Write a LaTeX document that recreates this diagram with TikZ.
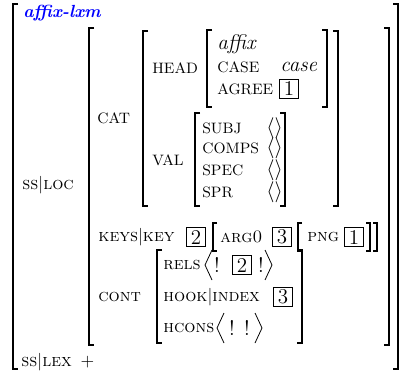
\RequirePackage{fix-cm}
\documentclass[tikz,border=0pt]{standalone}
\begin{document}
\begin{tikzpicture}[x=0.57pt,y=0.57pt,yscale=-1,xscale=1,
	attr/.style={anchor=west,inner sep=0pt,font=\scshape},
	feat/.style={anchor=west,inner sep=0pt,font=\fontsize{8.6}{10}\selectfont},
	typ/.style={anchor=west,inner sep=0pt,font=\fontsize{12}{14}\selectfont\itshape},
	sym/.style={inner sep=0pt,font=\fontsize{12}{14}\selectfont},
	tagbox/.style={draw,line width=1pt,inner sep=0pt,minimum width=10.8pt,minimum height=10.8pt,font=\fontsize{12}{14}\selectfont},
	brk/.style={line width=0.9pt},
	ang/.style={line width=0.45pt}]
	\useasboundingbox (0,0) rectangle (399,371);

	%Outer matrix
	\draw [brk] (18,4) -- (13,4) -- (13,369) -- (18,369) ;
	\draw [brk] (393,4) -- (398,4) -- (398,369) -- (393,369) ;
	\node [anchor=west,inner sep=0pt,text=blue,font=\bfseries\itshape] (type) at (23,13) {affix-lxm};
	\node [attr] (ssloc) at (22,185) {ss$|$loc};
	\node [attr] (sslex) at (21,362) {ss$|$lex\enspace$+$};

	%LOC value
	\draw [brk] (94,28) -- (89,28) -- (89,345) -- (94,345) ;
	\draw [brk] (384,28) -- (389,28) -- (389,345) -- (384,345) ;
	\node [feat] (cat) at (97,118) {CAT};
	\node [attr] (keys) at (98,237) {keys$|$key};
	\node [attr] (cont) at (98,297) {cont};

	%CAT value
	\draw [brk] (148,31) -- (143,31) -- (143,206) -- (148,206) ;
	\draw [brk] (333,31) -- (338,31) -- (338,206) -- (333,206) ;
	\node [feat] (head) at (152,68) {HEAD};
	\node [feat] (val) at (152,160) {VAL};

	%HEAD value
	\draw [brk] (212,30) -- (207,30) -- (207,107) -- (212,107) ;
	\draw [brk] (322,30) -- (327,30) -- (327,107) -- (322,107) ;
	\node [typ] (affix) at (217,44) {affix};
	\node [feat] (case) at (217,67) {CASE};
	\node [typ] (casev) at (280,67) {case};
	\node [feat] (agree) at (217,89) {AGREE};
	\node [tagbox] (tagA) at (289,89) {1};

	%VAL value
	\draw [brk] (200,113) -- (195,113) -- (195,206) -- (200,206) ;
	\draw [brk] (280,113) -- (285,113) -- (285,206) -- (280,206) ;
	\node [feat] (subj) at (202,128) {SUBJ};
	\node [feat] (comps) at (202,148) {COMPS};
	\node [feat] (spec) at (202,170) {SPEC};
	\node [feat] (spr) at (202,192) {SPR};
	\foreach \y/\n in {128/subjv,148/compsv,170/specv,192/sprv}
		\node [sym,anchor=west] (\n) at (266,\y) {$\langle\rangle$};

	%KEYS|KEY value
	\node [tagbox] (tagB) at (196,237) {2};
	\draw [brk] (217,223) -- (213,223) -- (213,251) -- (217,251) ;
	\node [attr] (arg) at (220,237) {arg0};
	\node [tagbox] (tagC) at (282,237) {3};
	\draw [brk] (302,223) -- (298,223) -- (298,251) -- (302,251) ;
	\node [attr] (png) at (307,237) {png};
	\node [tagbox] (tagD) at (354,237) {1};
	\draw [brk] (366,223) -- (370,223) -- (370,251) -- (366,251) ;
	\draw [brk] (373,223) -- (377,223) -- (377,251) -- (373,251) ;

	%CONT value
	\draw [brk] (162,250) -- (157,250) -- (157,343) -- (162,343) ;
	\draw [brk] (297,250) -- (302,250) -- (302,343) -- (297,343) ;
	\node [attr] (rels) at (163,265) {rels};
	\draw [ang] (212,250) -- (205,265) -- (212,280) ;
	\node [sym] (relsA) at (217,265) {!};
	\node [tagbox] (tagE) at (242,265) {2};
	\node [sym] (relsB) at (261,265) {!};
	\draw [ang] (265,250) -- (272,265) -- (265,280) ;
	\node [attr] (hook) at (163,297) {hook$|$index};
	\node [tagbox] (tagF) at (283,297) {3};
	\node [attr] (hcons) at (163,328) {hcons};
	\draw [ang] (224,313) -- (217,328) -- (224,343) ;
	\node [sym] (hconsA) at (232,328) {!};
	\node [sym] (hconsB) at (247,328) {!};
	\draw [ang] (255,313) -- (262,328) -- (255,343) ;

\end{tikzpicture}
\end{document}
